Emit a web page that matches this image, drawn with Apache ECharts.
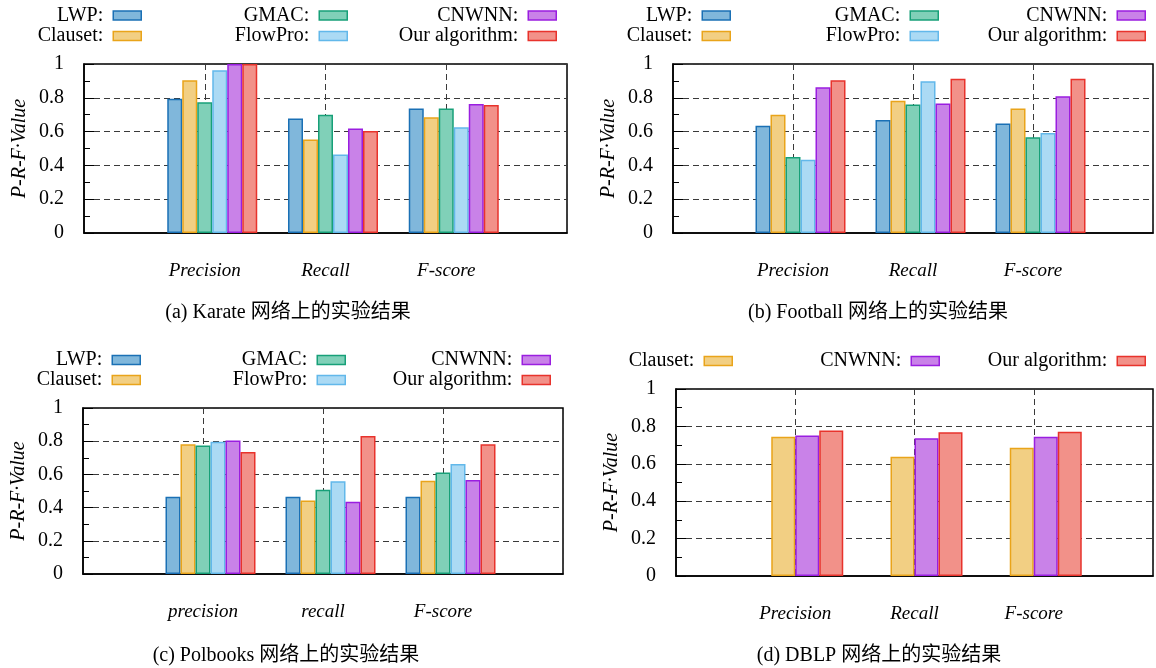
<!DOCTYPE html>
<html><head><meta charset="utf-8">
<script src="https://cdn.jsdelivr.net/npm/echarts@6/dist/echarts.min.js"></script>
<style>html,body{margin:0;padding:0;background:#fff}#c{width:1156px;height:668px}</style>
</head><body><div id="c"></div>
<script>
// ---------- data ----------
const categories = ['Precision', 'Recall', 'F-score'];
const categoriesPolbooks = ['precision', 'recall', 'F-score'];
const algorithms = ['LWP', 'Clauset', 'GMAC', 'FlowPro', 'CNWNN', 'Our algorithm'];
const algorithmsDBLP = ['Clauset', 'CNWNN', 'Our algorithm'];
const captions = ['(a) Karate 网络上的实验结果', '(b) Football 网络上的实验结果', '(c) Polbooks 网络上的实验结果', '(d) DBLP 网络上的实验结果'];
const yAxisName = 'P-R-F·Value';

// Karate
const karateLWP = [0.795, 0.677, 0.736];
const karateClauset = [0.904, 0.553, 0.685];
const karateGMAC = [0.774, 0.699, 0.736];
const karateFlowPro = [0.963, 0.465, 0.626];
const karateCNWNN = [1.0, 0.618, 0.764];
const karateOurs = [1.0, 0.604, 0.758];
// Football
const footballLWP = [0.634, 0.669, 0.648];
const footballClauset = [0.699, 0.783, 0.736];
const footballGMAC = [0.449, 0.760, 0.567];
const footballFlowPro = [0.433, 0.898, 0.591];
const footballCNWNN = [0.862, 0.766, 0.809];
const footballOurs = [0.904, 0.913, 0.913];
// Polbooks
const polbooksLWP = [0.465, 0.465, 0.465];
const polbooksClauset = [0.782, 0.443, 0.561];
const polbooksGMAC = [0.774, 0.507, 0.611];
const polbooksFlowPro = [0.796, 0.559, 0.663];
const polbooksCNWNN = [0.804, 0.435, 0.567];
const polbooksOurs = [0.735, 0.832, 0.782];
// DBLP
const dblpClauset = [0.744, 0.638, 0.686];
const dblpCNWNN = [0.751, 0.737, 0.744];
const dblpOurs = [0.778, 0.769, 0.771];

// ---------- styles / layout ----------
const FONT = '"Liberation Serif", "DejaVu Serif", serif';
const CAPFONT = '"Liberation Serif", "Noto Sans CJK SC", serif';
const fills = {'LWP':'#80b7db','Clauset':'#f2cf83','GMAC':'#80d0b8','FlowPro':'#abdaf4','CNWNN':'#c982e8','Our algorithm':'#f29189'};
const strokes = {'LWP':'#1a70b5','Clauset':'#e9a41a','GMAC':'#17a078','FlowPro':'#62b8ea','CNWNN':'#9a1ee0','Our algorithm':'#e8332c'};

const panels = [
  {grid:{left:84,top:64,width:483,height:169}, cats:categories, names:algorithms,
   vals:[karateLWP,karateClauset,karateGMAC,karateFlowPro,karateCNWNN,karateOurs], barW:15,
   cap:[288,303], legCols:[142,348,557], legRows:[15.5,36]},
  {grid:{left:673,top:64,width:484,height:169}, cats:categories, names:algorithms,
   vals:[footballLWP,footballClauset,footballGMAC,footballFlowPro,footballCNWNN,footballOurs], barW:15,
   cap:[878,303], legCols:[731,939,1146], legRows:[15.5,36]},
  {grid:{left:83,top:408,width:480,height:166}, cats:categoriesPolbooks, names:algorithms,
   vals:[polbooksLWP,polbooksClauset,polbooksGMAC,polbooksFlowPro,polbooksCNWNN,polbooksOurs], barW:15,
   cap:[286,646], legCols:[141,346,551], legRows:[360,380]},
  {grid:{left:676,top:389,width:480,height:187}, cats:categories, names:algorithmsDBLP,
   vals:[dblpClauset,dblpCNWNN,dblpOurs], barW:24,
   cap:[879,646], legCols:[733,940,1146], legRows:[361]}
];

const chart = echarts.init(document.getElementById('c'), null, {renderer:'canvas'});
const W = 1156;
const grids = [], xAxes = [], yAxes = [], series = [], legends = [], titles = [];
const dash = {color:'#3a3a3a', type:[6,4], width:1};

panels.forEach((p, i) => {
  grids.push(Object.assign({show:true, borderColor:'#000', borderWidth:1.5, containLabel:false}, p.grid));
  xAxes.push({gridIndex:i, type:'category', boundaryGap:false, data:['', ...p.cats, ''],
    axisLine:{show:true, lineStyle:{color:'#000', width:1.5}}, axisTick:{show:false},
    axisLabel:{interval:0, fontFamily:FONT, fontStyle:'italic', fontSize:19, color:'#000', margin:28},
    splitLine:{show:true, interval:0, lineStyle:dash}});
  yAxes.push({gridIndex:i, type:'value', min:0, max:1, interval:0.2,
    name:yAxisName, nameLocation:'middle', nameGap:54,
    nameTextStyle:{fontFamily:FONT, fontStyle:'italic', fontSize:20, color:'#000'},
    axisLine:{show:true, lineStyle:{color:'#000', width:1.5}},
    axisTick:{show:true, inside:true, length:10, lineStyle:{color:'#000', width:1}},
    minorTick:{show:true, splitNumber:2, length:6, lineStyle:{color:'#000', width:1}},
    axisLabel:{fontFamily:FONT, fontSize:20, color:'#000', margin:20},
    splitLine:{show:true, lineStyle:dash}});
  // placeholder column (gnuplot-style half-bar offset of the cluster)
  series.push({type:'bar', name:'_pad' + i, xAxisIndex:i, yAxisIndex:i, silent:true,
    data:[null, ...p.cats.map(() => null), null], barWidth:p.barW, barGap:'0%'});
  p.names.forEach((n, k) => {
    series.push({type:'bar', name:n, xAxisIndex:i, yAxisIndex:i, barWidth:p.barW, barGap:'0%',
      data:[null, ...p.vals[k], null],
      itemStyle:{color:fills[n], borderColor:strokes[n], borderWidth:1.5}});
  });
  const nRows = p.legRows.length;
  p.names.forEach((n, k) => {
    const col = Math.floor(k / nRows), row = k % nRows;
    legends.push({data:[{name:n, icon:'rect', itemStyle:{color:fills[n], borderColor:strokes[n], borderWidth:1.5}}],
      right: W - p.legCols[col], top: p.legRows[row] - 10, align:'right', orient:'horizontal',
      padding:0, itemWidth:28, itemHeight:9, selectedMode:false,
      textStyle:{fontFamily:FONT, fontSize:20, color:'#000', lineHeight:20},
      formatter: name => name + ': '});
  });
  titles.push({text:captions[i], left:p.cap[0], top:p.cap[1], textAlign:'center', padding:0,
    textStyle:{fontFamily:CAPFONT, fontSize:20, fontWeight:'normal', color:'#000'}});
});

chart.setOption({
  animation:false, backgroundColor:'#fff',
  title:titles, legend:legends, grid:grids, xAxis:xAxes, yAxis:yAxes, series:series
});
</script></body></html>
